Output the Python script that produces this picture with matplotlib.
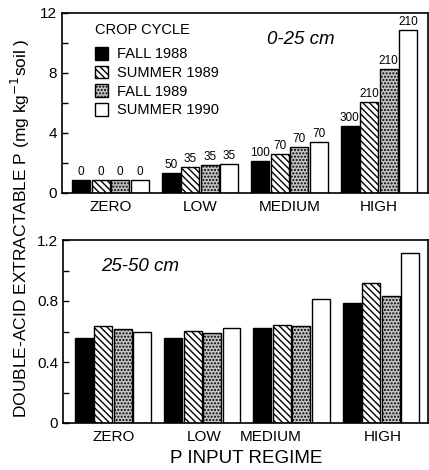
import numpy as np
import matplotlib
matplotlib.use("Agg")
import matplotlib.pyplot as plt
from matplotlib.patches import Patch

plt.rcParams['font.family'] = ['Liberation Sans', 'DejaVu Sans']
plt.rcParams['hatch.linewidth'] = 1.0

# dados
regimes = ['ZERO', 'LOW', 'MEDIUM', 'HIGH']
ciclos = ['FALL 1988', 'SUMMER 1989', 'FALL 1989', 'SUMMER 1990']

p_0_25 = [
    [0.9, 1.35, 2.15, 4.5],    # fall 1988
    [0.9, 1.75, 2.6, 6.1],     # summer 1989
    [0.9, 1.85, 3.1, 8.25],    # fall 1989
    [0.9, 1.95, 3.4, 10.85],   # summer 1990
]
p_25_50 = [
    [0.555, 0.56, 0.62, 0.785],
    [0.635, 0.605, 0.64, 0.915],
    [0.615, 0.59, 0.635, 0.835],
    [0.60, 0.625, 0.815, 1.115],
]
# P aplicado por ciclo, rótulos acima das barras
p_aplicado = [
    [0, 50, 100, 300],
    [0, 35, 70, 210],
    [0, 35, 70, 210],
    [0, 35, 70, 210],
]

estilos = [
    dict(facecolor='black', edgecolor='black', hatch=None),
    dict(facecolor='white', edgecolor='black', hatch='\\\\\\\\\\'),
    dict(facecolor='#c4c4c4', edgecolor='black', hatch='.....'),
    dict(facecolor='white', edgecolor='black', hatch=None),
]

fig = plt.figure(figsize=(4.29, 4.70), dpi=100)
ax1 = fig.add_axes([62 / 429, 1 - 193 / 470, 366 / 429, 180 / 470])
ax2 = fig.add_axes([63 / 429, 1 - 423 / 470, 365 / 429, 183 / 470])

x = np.arange(len(regimes))
largura = 0.2
passo = 0.218

for ax, dados in [(ax1, p_0_25), (ax2, p_25_50)]:
    for i, serie in enumerate(dados):
        pos = x + (i - 1.5) * passo
        barras = ax.bar(pos, serie, largura, linewidth=1.0, **estilos[i])
        if ax is ax1:
            for b, rot in zip(barras, p_aplicado[i]):
                ax.text(b.get_x() + b.get_width() / 2, b.get_height() + 0.12, str(rot),
                        ha='center', va='bottom', fontsize=8.5)
    for s in ax.spines.values():
        s.set_linewidth(1.2)
    ax.tick_params(axis='y', which='both', direction='in', labelsize=11, width=1)
    ax.tick_params(axis='y', which='major', length=4)
    ax.tick_params(axis='y', which='minor', length=4)
    ax.tick_params(axis='x', length=0, labelsize=11, pad=5)

ax1.set_xlim(-0.542, 3.547)
ax1.set_ylim(0, 12)
ax1.set_yticks([0, 4, 8, 12])
ax1.set_yticks([2, 6, 10], minor=True)
ax1.set_xticks(x)
ax1.set_xticklabels(regimes)

ax2.set_xlim(-0.56, 3.527)
ax2.set_ylim(0, 1.2)
ax2.set_yticks([0, 0.4, 0.8, 1.2])
ax2.set_yticklabels(['0', '0.4', '0.8', '1.2'])
ax2.set_yticks([0.2, 0.6, 1.0], minor=True)
ax2.set_xticks([0.01, 1.02, 1.76, 3.02])
ax2.set_xticklabels(regimes)

ax1.text(0.652, 0.855, '0-25 cm', transform=ax1.transAxes, fontsize=13.5,
         style='italic', ha='center', va='center')
ax2.text(0.21, 0.855, '25-50 cm', transform=ax2.transAxes, fontsize=13.5,
         style='italic', ha='center', va='center')

handles = [Patch(linewidth=1.0, label=c, **e) for c, e in zip(ciclos, estilos)]
leg = ax1.legend(handles=handles, title='CROP CYCLE', loc='upper left',
                 bbox_to_anchor=(0.075, 0.975), frameon=False, fontsize=10.5,
                 title_fontsize=10.5, handlelength=0.9, handleheight=0.95,
                 handletextpad=0.6, labelspacing=0.3, borderaxespad=0)
leg._legend_box.align = 'left'
leg._legend_box.sep = 7

fig.text(0.047, 0.515, 'DOUBLE-ACID EXTRACTABLE P (mg kg$^{-1}$soil )', rotation=90,
         ha='center', va='center', fontsize=12.5)
fig.text(0.575, 0.025, 'P INPUT REGIME', ha='center', va='center', fontsize=13.5)

fig.savefig('out.png', dpi=100)
